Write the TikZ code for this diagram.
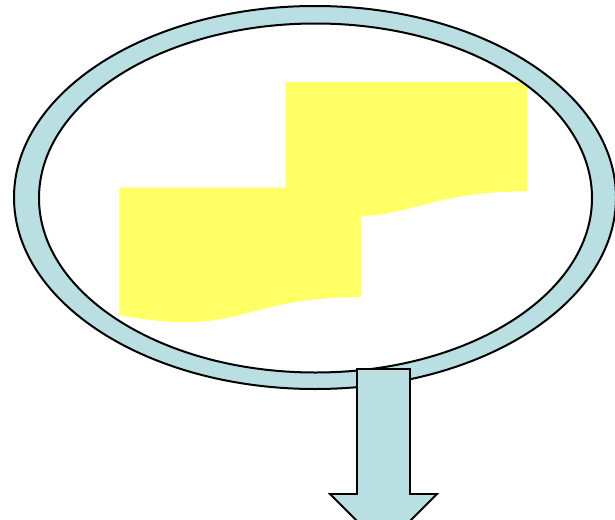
\documentclass[tikz,border=0pt]{standalone}
\definecolor{ringblue}{HTML}{B9DFE3}
\definecolor{docyellow}{HTML}{FFFF66}
\tikzset{
  ringline/.style={draw=black, line width=2pt},
  docshape/.style={fill=docyellow, draw=none},
}
\begin{document}
\begin{tikzpicture}[x=1pt,y=-1pt]
\useasboundingbox (0,0) rectangle (615,519);
\clip (0,0) rectangle (615,519);
% upper document
\fill[docshape] (285.7,82) -- (527.7,82) -- (527.7,191.3)
  .. controls (406.7,191.3) and (406.7,232.8) .. (285.7,209.3) -- cycle;
% lower document
\fill[docshape] (119.3,187.7) -- (361.3,187.7) -- (361.3,297)
  .. controls (240.3,297) and (240.3,338.5) .. (119.3,315) -- cycle;
% ring
\fill[ringblue, even odd rule] (315,197.5) ellipse [x radius=301, y radius=191.5]
  (315.5,198) ellipse [x radius=276.5, y radius=174.5];
\draw[ringline] (315,197.5) ellipse [x radius=301, y radius=191.5];
\draw[ringline] (315.5,198) ellipse [x radius=276.5, y radius=174.5];
% arrow
\draw[ringline, line width=1.8pt, fill=ringblue, line join=miter]
  (357,369) -- (410,369) -- (410,494) -- (437,494) -- (383.5,547.5)
  -- (330,494) -- (357,494) -- cycle;
\end{tikzpicture}
\end{document}
